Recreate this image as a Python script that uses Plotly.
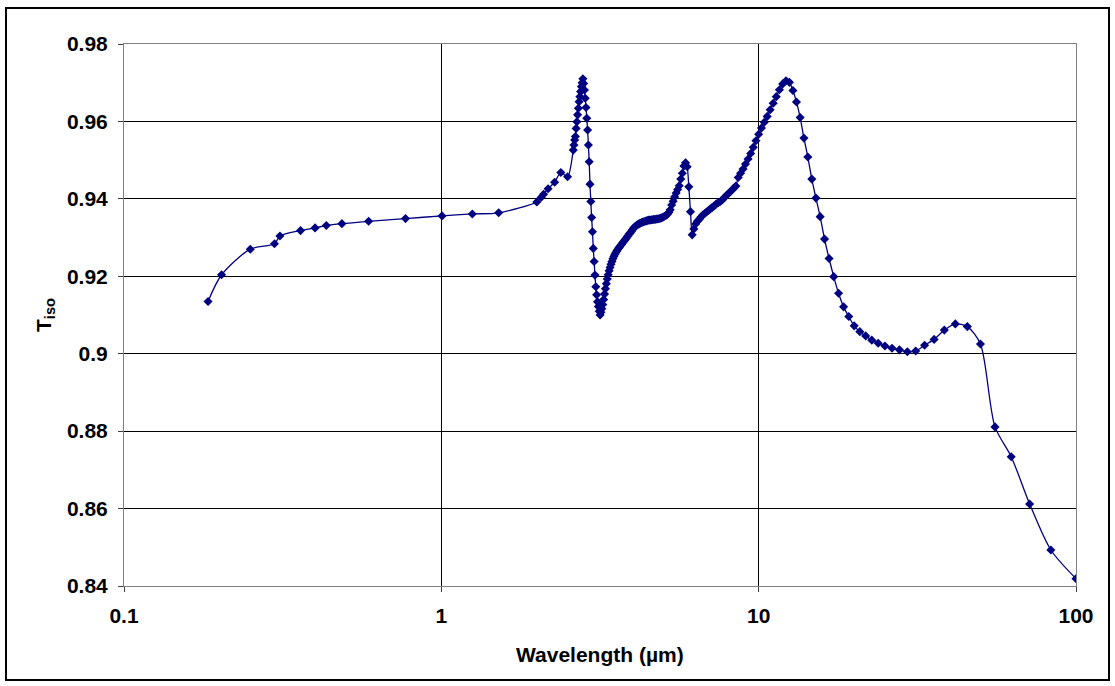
import plotly.graph_objects as go

# Short-wavelength measurements (wavelength in µm)
wavelength_short_um = [0.184, 0.203, 0.250, 0.298, 0.310, 0.360, 0.400, 0.434,
                       0.486, 0.590, 0.771, 1.005, 1.252, 1.516, 2.000, 2.065,
                       2.100, 2.170, 2.275, 2.380, 2.500]
tiso_short = [0.9135, 0.9204, 0.9270, 0.9284, 0.9304, 0.9318, 0.9325, 0.9331,
              0.9336, 0.9342, 0.9349, 0.9356, 0.9361, 0.9364, 0.9392, 0.9404,
              0.9412, 0.9426, 0.9443, 0.9468, 0.9457]

# Infrared measurements on a wavenumber grid (cm^-1)
wavenumber_cm = [
    3840, 3820, 3800, 3780, 3760, 3740, 3720, 3700, 3680, 3660,
    3640, 3620, 3600, 3580, 3560, 3540, 3520, 3500, 3480, 3460,
    3440, 3420, 3400, 3380, 3360, 3340, 3320, 3300, 3280, 3260,
    3240, 3220, 3200, 3180, 3160, 3140, 3120, 3100, 3080, 3060,
    3040, 3020, 3000, 2980, 2960, 2940, 2920, 2900, 2880, 2860,
    2840, 2820, 2800, 2780, 2760, 2740, 2720, 2700, 2680, 2660,
    2640, 2620, 2600, 2580, 2560, 2540, 2520, 2500, 2480, 2460,
    2440, 2420, 2400, 2380, 2360, 2340, 2320, 2300, 2280, 2260,
    2240, 2220, 2200, 2180, 2160, 2140, 2120, 2100, 2080, 2060,
    2040, 2020, 2000, 1980, 1960, 1940, 1920, 1900, 1880, 1860,
    1840, 1820, 1800, 1780, 1760, 1740, 1720, 1700, 1680, 1660,
    1640, 1620, 1600, 1580, 1560, 1540, 1520, 1500, 1480, 1460,
    1440, 1420, 1400, 1380, 1360, 1340, 1320, 1300, 1280, 1260,
    1240, 1220, 1200, 1180, 1160, 1140, 1120, 1100, 1080, 1060,
    1040, 1020, 1000, 980, 960, 940, 920, 900, 880, 860,
    840, 820, 800, 780, 760, 740, 720, 700, 680, 660,
    640, 620, 600, 580, 560, 540, 520, 500, 480, 460,
    440, 420, 400, 380, 360, 340, 320, 300, 280, 260,
    240, 220, 200, 180, 160, 140, 120, 100,
]
tiso_ir = [
    0.9526, 0.9539, 0.9552, 0.9561, 0.9582, 0.9599, 0.9617, 0.9634, 0.9651, 0.9664,
    0.9677, 0.9690, 0.9700, 0.9710, 0.9698, 0.9681, 0.9660, 0.9636, 0.9608, 0.9578,
    0.9539, 0.9496, 0.9438, 0.9393, 0.9352, 0.9315, 0.9272, 0.9238, 0.9203, 0.9173,
    0.9152, 0.9134, 0.9122, 0.9110, 0.9100, 0.9107, 0.9116, 0.9127, 0.9140, 0.9154,
    0.9168, 0.9181, 0.9193, 0.9204, 0.9214, 0.9223, 0.9231, 0.9238, 0.9245, 0.9251,
    0.9256, 0.9261, 0.9265, 0.9269, 0.9273, 0.9276, 0.9280, 0.9283, 0.9287, 0.9290,
    0.9294, 0.9297, 0.9301, 0.9305, 0.9309, 0.9312, 0.9316, 0.9320, 0.9324, 0.9327,
    0.9330, 0.9332, 0.9334, 0.9336, 0.9337, 0.9339, 0.9340, 0.9341, 0.9342, 0.9343,
    0.9344, 0.9345, 0.9345, 0.9346, 0.9346, 0.9347, 0.9347, 0.9348, 0.9348, 0.9349,
    0.9350, 0.9351, 0.9353, 0.9355, 0.9357, 0.9360, 0.9365, 0.9372, 0.9384, 0.9394,
    0.9405, 0.9415, 0.9424, 0.9434, 0.9451, 0.9466, 0.9485, 0.9493, 0.9483, 0.9431,
    0.9367, 0.9307, 0.9322, 0.9335, 0.9342, 0.9347, 0.9353, 0.9358, 0.9362, 0.9366,
    0.9370, 0.9374, 0.9378, 0.9382, 0.9387, 0.9390, 0.9393, 0.9398, 0.9404, 0.9410,
    0.9415, 0.9421, 0.9427, 0.9433, 0.9455, 0.9466, 0.9477, 0.9490, 0.9503, 0.9517,
    0.9533, 0.9550, 0.9567, 0.9583, 0.9598, 0.9613, 0.9630, 0.9647, 0.9664, 0.9682,
    0.9697, 0.9705, 0.9701, 0.9680, 0.9650, 0.9610, 0.9557, 0.9508, 0.9451, 0.9402,
    0.9354, 0.9296, 0.9246, 0.9199, 0.9156, 0.9121, 0.9096, 0.9072, 0.9057, 0.9046,
    0.9035, 0.9027, 0.9020, 0.9014, 0.9010, 0.9005, 0.9007, 0.9022, 0.9037, 0.9061,
    0.9077, 0.9070, 0.9025, 0.8811, 0.8734, 0.8612, 0.8493, 0.8419,
]

x_tick_vals = [0.1, 1, 10, 100]
x_tick_text = ["0.1", "1", "10", "100"]
y_tick_vals = [0.84, 0.86, 0.88, 0.90, 0.92, 0.94, 0.96, 0.98]
y_tick_text = ["0.84", "0.86", "0.88", "0.9", "0.92", "0.94", "0.96", "0.98"]

# Combine both parts on a common wavelength axis (µm = 10^4 / cm^-1)
wavelength_um = wavelength_short_um + [1e4 / v for v in wavenumber_cm]
tiso = tiso_short + tiso_ir

NAVY = "#000080"
FONT = "Liberation Sans, Arial, sans-serif"
FS = 21

fig = go.Figure()
fig.add_trace(go.Scatter(
    x=wavelength_um, y=tiso,
    mode="lines+markers",
    line=dict(color=NAVY, width=1.3, shape="spline", smoothing=0.8),
    marker=dict(symbol="diamond", size=7, color=NAVY, line=dict(width=0)),
    hoverinfo="x+y",
))

W, H = 1115, 686
L, R, T, B = 124, 39, 44, 100
pw, ph = W - L - R, H - T - B

def px_to_paper_x(px):
    return (px - L) / pw

def px_to_paper_y(py):
    return (H - B - py) / ph

axis_common = dict(
    showgrid=True, gridcolor="#000000", gridwidth=1,
    showline=True, linecolor="#808080", linewidth=1, mirror=True,
    ticks="outside", ticklen=5, tickcolor="#404040", tickwidth=1,
    tickfont=dict(family=FONT, size=FS, color="#000000", weight="bold"),
    zeroline=False,
)

fig.update_layout(
    width=W, height=H,
    margin=dict(l=L, r=R, t=T, b=B, pad=0),
    paper_bgcolor="white", plot_bgcolor="white",
    showlegend=False,
    xaxis=dict(type="log", range=[-1, 2], tickvals=x_tick_vals,
               ticktext=x_tick_text, ticklabelstandoff=6, **axis_common),
    yaxis=dict(range=[0.84, 0.98], tickvals=y_tick_vals,
               ticktext=y_tick_text, ticklabelstandoff=6, **axis_common),
    annotations=[
        dict(text="<b>Wavelength (µm)</b>", xref="paper", yref="paper",
             x=0.5, y=px_to_paper_y(654), xanchor="center", yanchor="middle",
             showarrow=False, font=dict(family=FONT, size=FS, color="#000000")),
        dict(text="<b>T<sub>iso</sub></b>", xref="paper", yref="paper",
             x=px_to_paper_x(45), y=0.5, xanchor="center", yanchor="middle",
             textangle=-90, showarrow=False,
             font=dict(family=FONT, size=FS, color="#000000")),
    ],
    shapes=[
        dict(type="rect", xref="paper", yref="paper",
             x0=px_to_paper_x(6), x1=px_to_paper_x(1109),
             y0=px_to_paper_y(680), y1=px_to_paper_y(8),
             line=dict(color="#000000", width=2), fillcolor="rgba(0,0,0,0)",
             layer="below"),
    ],
)

fig.write_html("out.html")
